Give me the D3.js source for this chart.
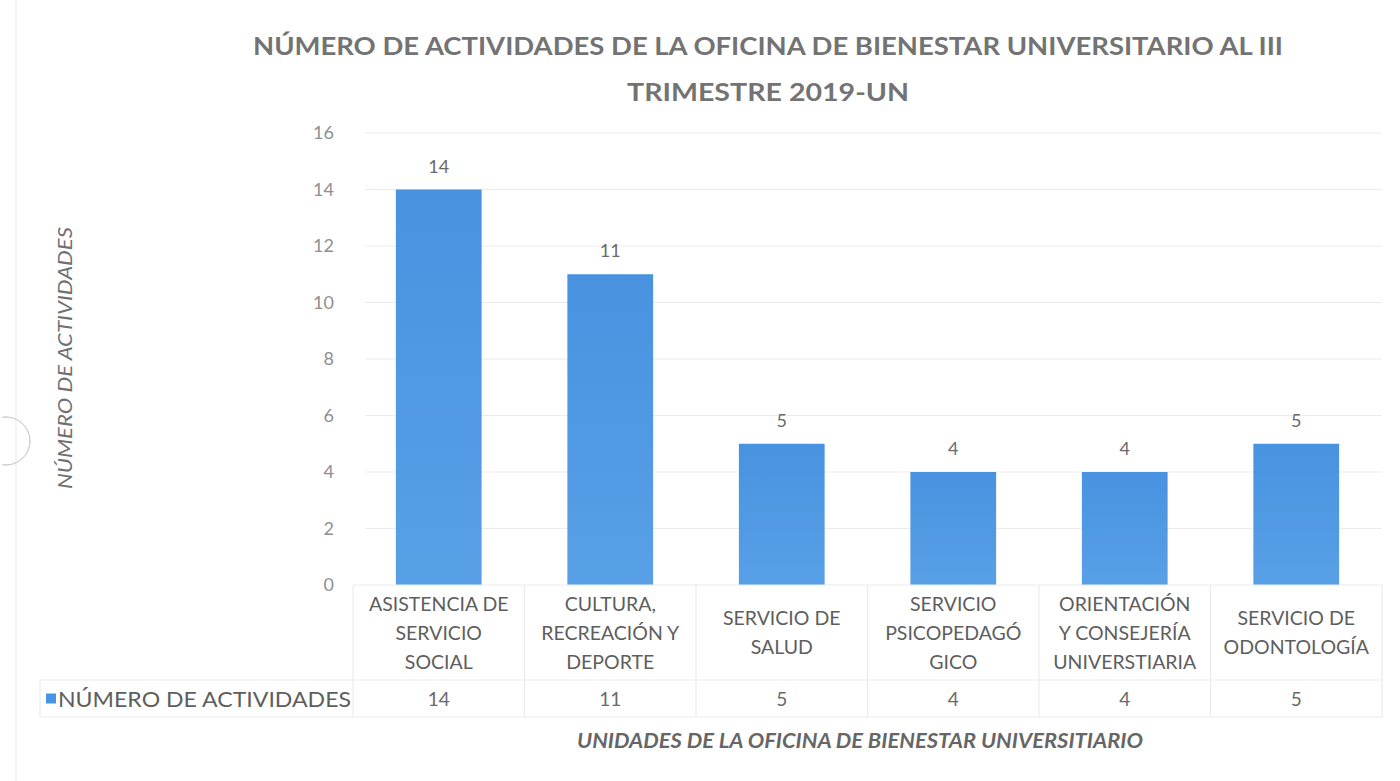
<!DOCTYPE html>
<html>
<head>
<meta charset="utf-8">
<script src="https://cdn.jsdelivr.net/npm/d3@7"></script>
<style>
  body { margin: 0; background: #fff; }
  svg text { font-family: Lato, "Open Sans", sans-serif; }
</style>
</head>
<body>
<svg id="chart" width="1400" height="781"></svg>
<script>
// data
const categories = [
    ["ASISTENCIA DE", "SERVICIO", "SOCIAL"],
    ["CULTURA,", "RECREACIÓN Y", "DEPORTE"],
    ["SERVICIO DE", "SALUD"],
    ["SERVICIO", "PSICOPEDAGÓ", "GICO"],
    ["ORIENTACIÓN", "Y CONSEJERÍA", "UNIVERSTIARIA"],
    ["SERVICIO DE", "ODONTOLOGÍA"]
];
const values = [14, 11, 5, 4, 4, 5];
const yTicks = [0, 2, 4, 6, 8, 10, 12, 14, 16];
const seriesName = "NÚMERO DE ACTIVIDADES";
const titleLines = ["NÚMERO DE ACTIVIDADES DE LA OFICINA DE BIENESTAR UNIVERSITARIO AL III", "TRIMESTRE 2019-UN"];
const yTitle = "NÚMERO DE ACTIVIDADES";
const xTitle = "UNIDADES DE LA OFICINA DE BIENESTAR UNIVERSITIARIO";

const svg = d3.select("#chart");

// layout
const plot = { left: 353, right: 1382, top: 133, bottom: 585 };
const table = { left: 40, row1: 680, row2: 717 };

const x = d3.scaleBand()
    .domain(d3.range(categories.length))
    .range([plot.left, plot.right])
    .paddingInner(0.5)
    .paddingOuter(0.25);

const y = d3.scaleLinear()
    .domain([0, 16])
    .range([plot.bottom, plot.top]);

// gradient for bars
const defs = svg.append("defs");
const grad = defs.append("linearGradient")
    .attr("id", "barGrad")
    .attr("x1", 0).attr("y1", 0).attr("x2", 0).attr("y2", 1);
grad.append("stop").attr("offset", "0%").attr("stop-color", "#4892e0");
grad.append("stop").attr("offset", "100%").attr("stop-color", "#58a0e6");

// scan artefacts: paper edge and punched hole
svg.append("line")
    .attr("x1", 16).attr("x2", 16).attr("y1", 0).attr("y2", 781)
    .attr("stroke", "#f1f1f1").attr("stroke-width", 1.5);
svg.append("path")
    .attr("d", d3.arc()({ innerRadius: 24, outerRadius: 24, startAngle: -0.15, endAngle: Math.PI + 0.15 }))
    .attr("transform", "translate(6,441)")
    .attr("fill", "none")
    .attr("stroke", "#cfcfcf")
    .attr("stroke-width", 1);

// title
svg.append("g").selectAll("text")
    .data(titleLines)
    .join("text")
    .attr("x", 768)
    .attr("y", (d, i) => 55 + i * 46)
    .attr("text-anchor", "middle")
    .attr("font-size", 25)
    .attr("font-weight", 700)
    .attr("fill", "#737373")
    .attr("textLength", (d, i) => i === 0 ? 1030 : 282)
    .attr("lengthAdjust", "spacingAndGlyphs")
    .text(d => d);

// grid lines
svg.append("g")
    .selectAll("line")
    .data(yTicks.filter(t => t > 0))
    .join("line")
    .attr("x1", plot.left + 12)
    .attr("x2", plot.right)
    .attr("y1", d => y(d))
    .attr("y2", d => y(d))
    .attr("stroke", "#ebebeb")
    .attr("stroke-width", 1.2);

// y axis
const yAxis = svg.append("g")
    .attr("transform", `translate(${plot.left - 19},0)`)
    .call(d3.axisLeft(y).tickValues(yTicks).tickSize(0).tickPadding(0));
yAxis.select(".domain").remove();
yAxis.selectAll("text")
    .attr("font-size", 18)
    .attr("fill", "#8f8f8f")
    .attr("font-family", "Lato, sans-serif");

// y title
svg.append("text")
    .attr("transform", "translate(72,358) rotate(-90)")
    .attr("text-anchor", "middle")
    .attr("font-size", 20)
    .attr("font-style", "italic")
    .attr("fill", "#707070")
    .attr("textLength", 262)
    .attr("lengthAdjust", "spacingAndGlyphs")
    .text(yTitle);

// bars
svg.append("g")
    .selectAll("rect")
    .data(values)
    .join("rect")
    .attr("x", (d, i) => x(i))
    .attr("y", d => y(d))
    .attr("width", x.bandwidth())
    .attr("height", d => y(0) - y(d))
    .attr("fill", "url(#barGrad)");

// data labels
svg.append("g")
    .selectAll("text")
    .data(values)
    .join("text")
    .attr("x", (d, i) => x(i) + x.bandwidth() / 2)
    .attr("y", d => y(d) - 17)
    .attr("text-anchor", "middle")
    .attr("font-size", 18)
    .attr("fill", "#6a6a6a")
    .text(d => d);

// data table
const step = x.step();
const colLeft = i => plot.left + i * step;
const tbl = svg.append("g").attr("stroke", "#ebebeb").attr("stroke-width", 1.2);
tbl.append("line").attr("x1", plot.left).attr("x2", plot.right).attr("y1", plot.bottom).attr("y2", plot.bottom);
tbl.append("line").attr("x1", table.left).attr("x2", plot.right).attr("y1", table.row1).attr("y2", table.row1);
tbl.append("line").attr("x1", table.left).attr("x2", plot.right).attr("y1", table.row2).attr("y2", table.row2);
tbl.selectAll(".vline")
    .data(d3.range(categories.length + 1))
    .join("line")
    .attr("x1", i => colLeft(i))
    .attr("x2", i => colLeft(i))
    .attr("y1", plot.bottom)
    .attr("y2", table.row2);
tbl.append("line").attr("x1", table.left).attr("x2", table.left).attr("y1", table.row1).attr("y2", table.row2);

// category labels
const catG = svg.append("g")
    .selectAll("text")
    .data(categories)
    .join("text")
    .attr("text-anchor", "middle")
    .attr("font-size", 19.5)
    .attr("fill", "#5e5e5e");
catG.each(function (lines, i) {
    const cx = colLeft(i) + step / 2;
    const mid = (plot.bottom + table.row1) / 2;
    const lh = 29;
    const start = mid - (lines.length - 1) * lh / 2 + 7;
    d3.select(this).selectAll("tspan")
        .data(lines)
        .join("tspan")
        .attr("x", cx)
        .attr("y", (d, j) => start + j * lh)
        .text(d => d);
});

// value row
svg.append("g")
    .selectAll("text")
    .data(values)
    .join("text")
    .attr("x", (d, i) => colLeft(i) + step / 2)
    .attr("y", (table.row1 + table.row2) / 2 + 7)
    .attr("text-anchor", "middle")
    .attr("font-size", 19)
    .attr("fill", "#6a6a6a")
    .text(d => d);

// legend key in table
svg.append("rect")
    .attr("x", 46)
    .attr("y", (table.row1 + table.row2) / 2 - 5)
    .attr("width", 10)
    .attr("height", 10)
    .attr("fill", "#4a95e3");
svg.append("text")
    .attr("x", 58)
    .attr("y", (table.row1 + table.row2) / 2 + 8)
    .attr("font-size", 21)
    .attr("fill", "#5e5e5e")
    .attr("textLength", 293)
    .attr("lengthAdjust", "spacingAndGlyphs")
    .text(seriesName);

// x title
svg.append("text")
    .attr("x", 860)
    .attr("y", 748)
    .attr("text-anchor", "middle")
    .attr("font-size", 20)
    .attr("font-style", "italic")
    .attr("font-weight", 700)
    .attr("fill", "#666")
    .attr("textLength", 566)
    .attr("lengthAdjust", "spacingAndGlyphs")
    .text(xTitle);
</script>
</body>
</html>
